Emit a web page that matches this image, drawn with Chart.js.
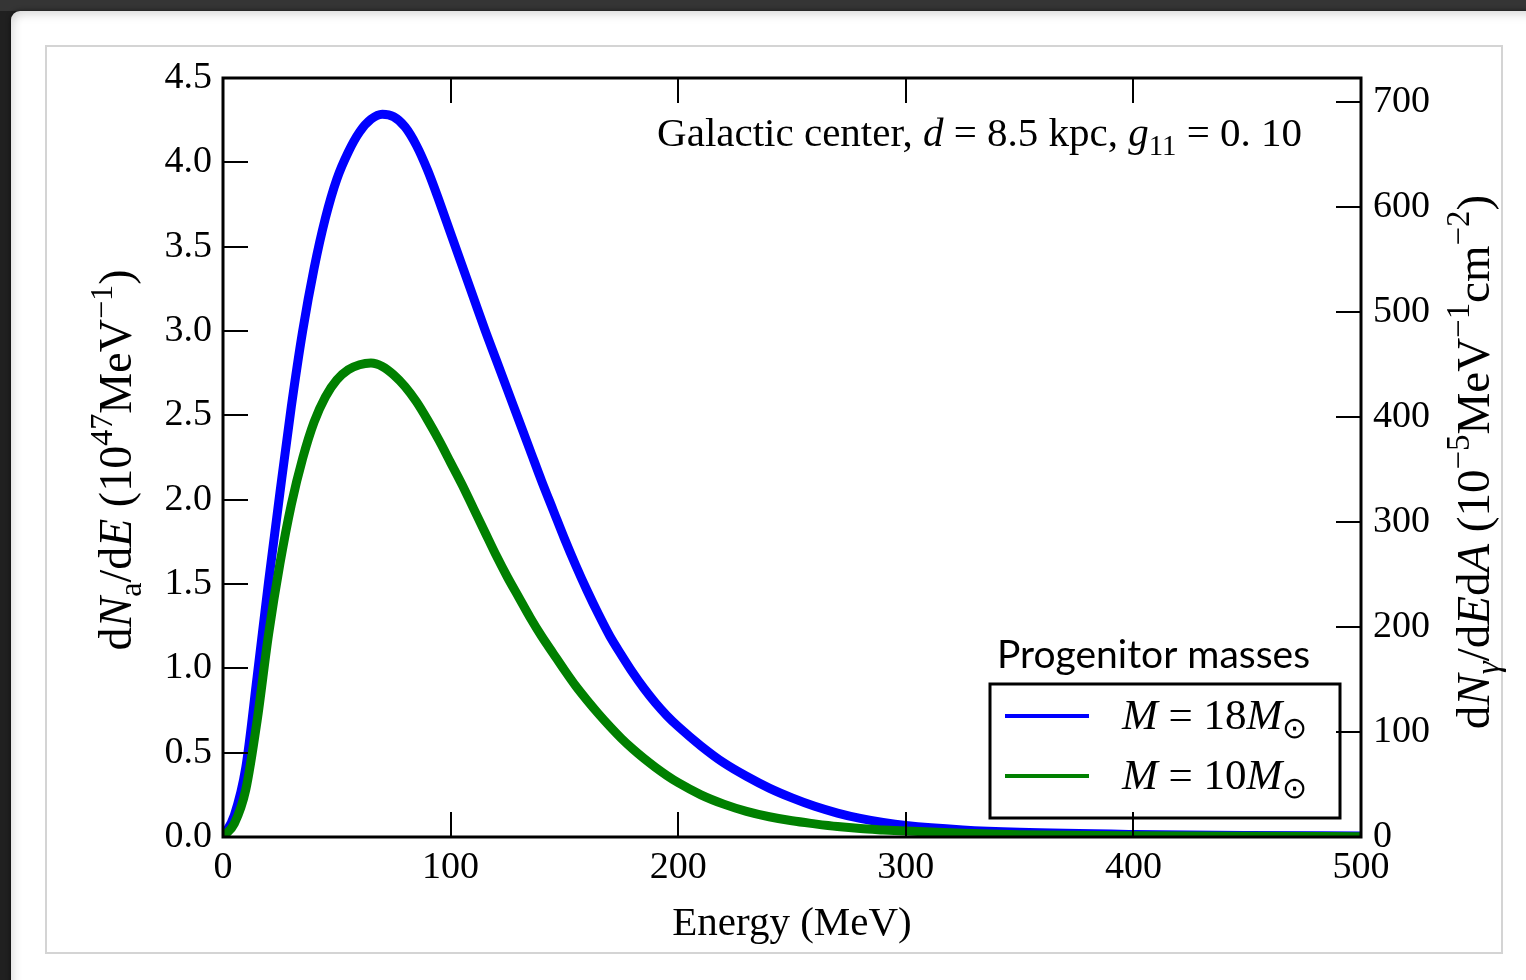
<!DOCTYPE html>
<html>
<head>
<meta charset="utf-8">
<script src="https://cdn.jsdelivr.net/npm/chart.js@4"></script>
<style>
  html, body { margin: 0; padding: 0; }
  body { width: 1526px; height: 980px; overflow: hidden; background: #202020; position: relative; }
  #topbar { position: absolute; left: 0; top: 0; width: 1526px; height: 11px; background: #353535; }
  #card { position: absolute; left: 11px; top: 11px; width: 1540px; height: 1000px; background: #fff;
          border-top-left-radius: 9px; box-shadow: 0 0 5px rgba(0,0,0,0.6), inset 0 5px 8px rgba(0,0,0,0.10), inset 5px 0 8px rgba(0,0,0,0.06); }
  #frame { position: absolute; left: 45px; top: 45px; width: 1454px; height: 905px; border: 2px solid #d4d4d4; }
  #spectrum { position: absolute; left: 0; top: 0; }
</style>
</head>
<body>
<div id="topbar"></div>
<div id="card"></div>
<div id="frame"></div>
<canvas id="spectrum" width="1526" height="980"></canvas>
<script>
// energy grid (MeV)
const energy = [0, 5, 10, 15, 20, 25, 30, 35, 40, 45, 50, 55, 60, 65, 70, 75, 80, 85, 90, 95, 100,
  105, 110, 115, 120, 125, 130, 135, 140, 145, 150, 155, 160, 165, 170, 175, 180, 185, 190, 195, 200,
  210, 220, 230, 240, 250, 260, 270, 280, 290, 300, 325, 350, 400, 450, 500];

// dN_a/dE in 1e47 MeV^-1
const mass18 = [0, 0.13, 0.41, 0.95, 1.51, 2.04, 2.55, 3.00, 3.37, 3.67, 3.90, 4.06, 4.18, 4.255, 4.285,
  4.27, 4.21, 4.10, 3.95, 3.77, 3.58, 3.39, 3.20, 3.01, 2.83, 2.65, 2.47, 2.29, 2.11, 1.94, 1.77,
  1.61, 1.46, 1.32, 1.19, 1.08, 0.975, 0.88, 0.795, 0.72, 0.655,
  0.54, 0.44, 0.36, 0.29, 0.232, 0.182, 0.142, 0.11, 0.086, 0.068,
  0.042, 0.028, 0.015, 0.009, 0.006];
const mass10 = [0, 0.08, 0.28, 0.69, 1.20, 1.62, 1.97, 2.245, 2.46, 2.61, 2.71, 2.77, 2.80, 2.81, 2.79,
  2.74, 2.67, 2.58, 2.47, 2.35, 2.22, 2.09, 1.95, 1.81, 1.67, 1.54, 1.42, 1.30, 1.19, 1.09, 0.99,
  0.895, 0.81, 0.73, 0.655, 0.585, 0.522, 0.465, 0.413, 0.365, 0.322,
  0.25, 0.195, 0.152, 0.12, 0.096, 0.078, 0.062, 0.05, 0.042, 0.035,
  0.022, 0.014, 0.007, 0.004, 0.002];

const seriesNames = ['M=18M☉', 'M=10M☉'];
const seriesColors = ['#0000ff', '#008000'];

const xRange = [0, 500];
const leftRange = [0, 4.5];
const rightRange = [0, 723];   // photon flux axis, 1e-5 MeV^-1 cm^-2
const xStep = 100, leftStep = 0.5, rightStep = 100;

const SERIF = '"Liberation Serif", "Times New Roman", serif';

// draw a run of text pieces: [text, italic, 'sub' | 'sup' | '']
function richWidth(ctx, runs, size) {
  let w = 0;
  for (const [t, it, pos] of runs) {
    const s = pos ? size * 0.7 : size;
    ctx.font = (it ? 'italic ' : '') + s + 'px ' + SERIF;
    w += ctx.measureText(t).width;
  }
  return w;
}
function drawRich(ctx, runs, x, y, size, align) {
  const w = richWidth(ctx, runs, size);
  let cx = align === 'center' ? x - w / 2 : align === 'right' ? x - w : x;
  ctx.textBaseline = 'alphabetic';
  ctx.textAlign = 'left';
  for (const [t, it, pos] of runs) {
    const s = pos ? size * 0.7 : size;
    ctx.font = (it ? 'italic ' : '') + s + 'px ' + SERIF;
    const dy = pos === 'sub' ? size * 0.22 : pos === 'sup' ? -size * 0.42 : 0;
    ctx.fillText(t, cx, y + dy);
    cx += ctx.measureText(t).width;
  }
}

const decorations = {
  id: 'decorations',
  afterDatasetsDraw(chart) {
    const { ctx, chartArea: a, scales } = chart;
    ctx.save();
    ctx.fillStyle = '#000';
    ctx.strokeStyle = '#000';

    // inward ticks
    ctx.lineWidth = 2;
    const tl = 25;
    ctx.beginPath();
    scales.x.ticks.forEach(t => {
      if (t.value <= xRange[0] || t.value >= xRange[1]) return;
      const px = Math.round(scales.x.getPixelForValue(t.value));
      ctx.moveTo(px, a.bottom); ctx.lineTo(px, a.bottom - tl);
      ctx.moveTo(px, a.top); ctx.lineTo(px, a.top + tl);
    });
    scales.y.ticks.forEach(t => {
      if (t.value <= leftRange[0] || t.value >= leftRange[1]) return;
      const py = Math.round(scales.y.getPixelForValue(t.value));
      ctx.moveTo(a.left, py); ctx.lineTo(a.left + tl, py);
    });
    scales.y2.ticks.forEach(t => {
      if (t.value <= rightRange[0] || t.value >= rightRange[1]) return;
      const py = Math.round(scales.y2.getPixelForValue(t.value));
      ctx.moveTo(a.right, py); ctx.lineTo(a.right - tl, py);
    });
    ctx.stroke();

    // plot frame
    ctx.lineWidth = 3;
    ctx.strokeRect(a.left, a.top, a.right - a.left, a.bottom - a.top);

    // annotation
    drawRich(ctx, [
      ['Galactic center, ', false, ''], ['d', true, ''], [' = 8.5 kpc, ', false, ''],
      ['g', true, ''], ['11', false, 'sub'], [' = 0. 10', false, '']
    ], a.right - 59, 146, 41, 'right');

    // legend
    const bx = a.right - 371, by = a.bottom - 153, bw = 350, bh = 134;
    ctx.font = '39px Lato, "Open Sans", sans-serif';
    ctx.textAlign = 'left';
    ctx.fillText('Progenitor masses', bx + 7, by - 16);
    ctx.lineWidth = 3;
    ctx.strokeRect(bx, by, bw, bh);
    chart.data.datasets.forEach((ds, i) => {
      const ly = by + 32 + i * 60;
      ctx.strokeStyle = ds.borderColor;
      ctx.lineWidth = 4;
      ctx.beginPath();
      ctx.moveTo(bx + 15, ly); ctx.lineTo(bx + 99, ly);
      ctx.stroke();
      const num = ds.label.match(/\d+/)[0];
      drawRich(ctx, [['M', true, ''], [' = ', false, ''], [num, false, ''], ['M', true, ''], ['⊙', false, 'sub']],
        bx + 132, ly + 13, 43, 'left');
    });
    ctx.strokeStyle = '#000';

    // axis titles
    drawRich(ctx, [['Energy (MeV)', false, '']], (a.left + a.right) / 2, 935, 41, 'center');

    ctx.save();
    ctx.translate(131, 460);
    ctx.rotate(-Math.PI / 2);
    drawRich(ctx, [
      ['d', false, ''], ['N', true, ''], ['a', false, 'sub'], ['/d', false, ''], ['E', true, ''],
      [' (10', false, ''], ['47', false, 'sup'], ['MeV', false, ''], ['−1', false, 'sup'], [')', false, '']
    ], 0, 0, 46, 'center');
    ctx.restore();

    ctx.save();
    ctx.translate(1489, 462);
    ctx.rotate(-Math.PI / 2);
    drawRich(ctx, [
      ['d', false, ''], ['N', true, ''], ['γ', true, 'sub'], ['/d', false, ''], ['E', true, ''], ['d', false, ''],
      ['A', true, ''], [' (10', false, ''], ['−5', false, 'sup'], ['MeV', false, ''], ['−1', false, 'sup'],
      ['cm', false, ''], ['−2', false, 'sup'], [')', false, '']
    ], 0, 0, 47, 'center');
    ctx.restore();

    ctx.restore();
  }
};

const toPoints = vals => energy.map((e, i) => ({ x: e, y: vals[i] }));

new Chart(document.getElementById('spectrum'), {
  type: 'line',
  data: {
    datasets: [
      { label: seriesNames[0], data: toPoints(mass18), borderColor: seriesColors[0], order: 1 },
      { label: seriesNames[1], data: toPoints(mass10), borderColor: seriesColors[1], order: 0 }
    ]
  },
  options: {
    responsive: false,
    animation: false,
    layout: { padding: { top: 78 } },
    elements: {
      line: { borderWidth: 9, cubicInterpolationMode: 'monotone', borderCapStyle: 'round', borderJoinStyle: 'round' },
      point: { radius: 0 }
    },
    plugins: { legend: { display: false }, tooltip: { enabled: false } },
    scales: {
      x: {
        type: 'linear', min: xRange[0], max: xRange[1],
        grid: { display: false, drawTicks: false }, border: { display: false },
        ticks: { stepSize: xStep, color: '#000', padding: 8, font: { family: SERIF, size: 38 } },
        afterFit: s => { s.height = 143; }
      },
      y: {
        position: 'left', min: leftRange[0], max: leftRange[1],
        grid: { display: false, drawTicks: false }, border: { display: false },
        ticks: { stepSize: leftStep, color: '#000', padding: 11, font: { family: SERIF, size: 38 },
                 callback: v => Number(v).toFixed(1) },
        afterFit: s => { s.width = 223; }
      },
      y2: {
        position: 'right', min: rightRange[0], max: rightRange[1],
        grid: { display: false, drawTicks: false }, border: { display: false },
        ticks: { stepSize: rightStep, includeBounds: false, color: '#000', padding: 12,
                 font: { family: SERIF, size: 38 } },
        afterFit: s => { s.width = 165; }
      }
    }
  },
  plugins: [decorations]
});
</script>
</body>
</html>
